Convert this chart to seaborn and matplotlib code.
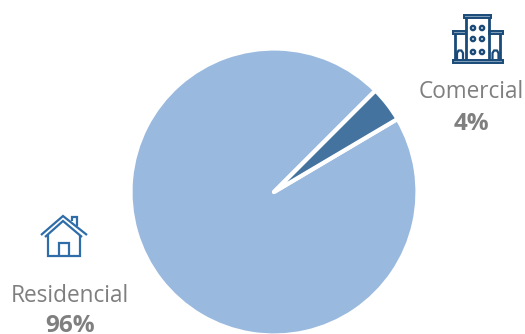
import matplotlib
matplotlib.use("Agg")
import matplotlib.pyplot as plt
from matplotlib.patches import Circle, Rectangle
import seaborn as sns

categories = ["Residencial", "Comercial"]
shares = [96, 4]
slice_colors = ["#9AB9DF", "#44739F"]

sns.set_theme(style="white")
plt.rcParams["font.family"] = ["Open Sans", "DejaVu Sans"]

W, H = 525, 334
fig = plt.figure(figsize=(W / 100, H / 100), dpi=100)
ax = fig.add_axes([0, 0, 1, 1])

ax.pie(
    shares,
    colors=slice_colors,
    startangle=45,
    center=(274, H - 192),
    radius=143.5,
    frame=True,
    wedgeprops={"edgecolor": "white", "linewidth": 3, "joinstyle": "round"},
)
ax.set_xlim(0, W)
ax.set_ylim(0, H)
ax.set_aspect("equal")
ax.axis("off")


def stroke(points, color, lw=2.0):
    """Polyline given in top-left based pixel coordinates."""
    xs, ys = zip(*points)
    ax.plot(xs, [H - y for y in ys], color=color, lw=lw,
            solid_capstyle="butt", solid_joinstyle="miter", clip_on=False)


def bar(x0, y0, x1, y1, edge, face):
    ax.add_patch(Rectangle((x0, H - y1), x1 - x0, y1 - y0, facecolor=face,
                           edgecolor=edge, lw=1.4))


# Building icon
navy = "#1A4A78"
tint = "#7F9DB9"
stroke([(466, 17), (466, 60)], navy, 2.0)
stroke([(489, 17), (489, 60)], navy, 2.0)
stroke([(455, 33), (455, 60)], navy, 2.0)
stroke([(500, 33), (500, 60)], navy, 2.0)
bar(464, 14.5, 491, 17.5, navy, tint)
bar(452.5, 30.5, 466, 33.5, navy, tint)
bar(489, 30.5, 502.5, 33.5, navy, tint)
bar(452.5, 59.5, 502.5, 63, navy, tint)
for wx in (473, 482):
    for wy in (28, 39, 52):
        ax.add_patch(Circle((wx, H - wy), 2.1, facecolor="white",
                            edgecolor=navy, lw=1.7))
for dx in (460, 495.5):
    stroke([(dx - 3, 59), (dx - 3, 53), (dx - 1.4, 50.5), (dx + 1.4, 50.5),
            (dx + 3, 53), (dx + 3, 59)], navy, 1.6)

# House icon
blue = "#2E6DA8"
stroke([(41, 235), (63, 216), (87, 235)], blue, 1.6)
stroke([(45, 237), (63, 221), (82, 237)], blue, 1.6)
stroke([(48, 235), (48, 256), (80, 256), (80, 235)], blue, 1.6)
stroke([(58.5, 256), (58.5, 242.5), (69, 242.5), (69, 256)], blue, 1.6)
stroke([(72, 221), (72, 216.5), (77, 216.5), (77, 226)], blue, 1.6)

# Category labels with their shares, placed by baseline
label_color = "#7F7F7F"
label_spots = [(70, 301.5, 332), (471, 98.5, 130)]
for name, share, (lx, ny, vy) in zip(categories, shares, label_spots):
    ax.text(lx, H - ny, name, ha="center", va="baseline", fontsize=16.3,
            color=label_color)
    ax.text(lx, H - vy, f"{share}%", ha="center", va="baseline", fontsize=17.5,
            fontweight="bold", color=label_color)

fig.savefig("out.png", dpi=100)
